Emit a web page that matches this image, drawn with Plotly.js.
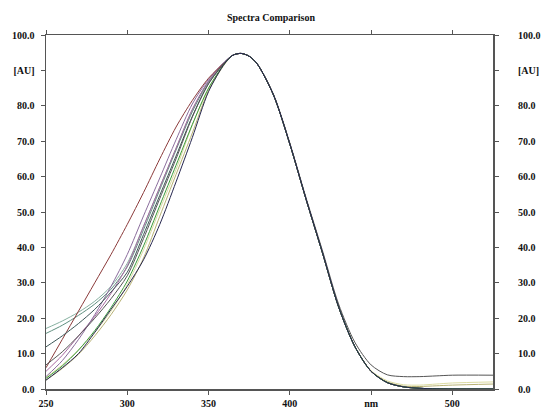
<!DOCTYPE html>
<html>
<head>
<meta charset="utf-8">
<script src="https://cdn.plot.ly/plotly-3.0.1.min.js"></script>
<style>html,body{margin:0;padding:0;background:#fff;}#chart{width:542px;height:408px;}</style>
</head>
<body>
<div id="chart"></div>
<script>
// Wavelength grid (nm)
const wavelength = [250,260,270,280,290,300,310,320,330,340,350,360,
  365,370,375,380,390,400,410,420,430,440,450,460,470,480,490,500,525];

// Absorbance series [AU]
const sBrown   = [6,14,22,30,38,46.5,55.5,65,74,81.5,87.8,92.3, 94.3,94.8,94.0,91.8,83,69.2,53.6,38.6,23.2,12,5,1.8,0.6,0.2,0.05,0,0];
const sPurple  = [3.5,8,14,21,29,38,48.9,59.6,70.4,80.5,87.5,92.5, 94.3,94.8,94.0,91.8,83,69.2,53.6,38.6,23.2,12,5,1.8,0.6,0.2,0.05,0,0];
const sMagenta = [5,9.5,15,20.5,27,34.8,45.9,57,68,79,87,92.4, 94.3,94.8,94.0,91.8,83,69.2,53.6,38.6,23.2,12,5,1.8,0.6,0.2,0.05,0,0];
const sGray    = [6.8,10.5,15,20,25.5,32,42.5,53.8,65,76.8,86.2,92.2, 94.3,94.8,94.0,91.8,83.2,69.5,54,39.2,24,13.2,6.8,4.0,3.5,3.5,3.7,3.9,3.9];
const sSage1   = [17.1,19.2,21.7,24.8,29,35.5,46,57,68,78.8,87,92.4, 94.3,94.8,94.0,91.8,83,69.2,53.6,38.6,23.2,12,5,1.8,0.6,0.2,0.05,0,0];
const sSage2   = [15.7,18,20.8,24,28.2,34.5,45,56.3,67.5,78.3,86.8,92.3, 94.3,94.8,94.0,91.8,83,69.2,53.6,38.6,23.2,12,5,1.8,0.6,0.2,0.05,0,0];
const sSlate   = [11.9,15,18.5,22.5,27.4,33,43.6,54.7,65.8,77,86.3,92.2, 94.3,94.8,94.0,91.8,83,69.2,53.6,38.6,23.2,12,5,1.8,0.6,0.2,0.05,0,0];
const sGreen   = [3,6.5,11,16.5,23,30.5,40.4,51.8,63.2,74.7,85,92, 94.3,94.8,94.0,91.8,83,69.2,53.6,38.6,23.2,12,5,1.8,0.6,0.2,0.05,0,0];
const sNavy    = [2.5,6,10,16,22.5,29,36.5,46.5,58.5,71,84,92, 94.3,94.8,94.0,91.8,83,69.2,53.6,38.6,23.2,12,5,1.8,0.6,0.2,0.05,0,0];
const sOlive   = [2.5,5.8,9.8,15,21,28,37,48.8,60.6,72.3,84.3,91.8, 94.3,94.8,94.0,91.8,83,69.2,53.6,38.6,23.2,12,5,2.0,0.8,0.7,0.9,1.1,1.4];
const sYellow  = [3.2,6.8,11,16,22,29.5,39.3,50.7,62,74.5,84.8,92, 94.3,94.8,94.0,91.8,83,69.2,53.6,38.6,23.2,12.1,5.2,2.3,1.2,1.1,1.4,1.7,2.0];

// Tick labels
const xTickVals = [250,300,350,400,450,500];
const xTickText = ['250','300','350','400','nm','500'];
const yTickVals = [0,10,20,30,40,50,60,70,80,90,100];
const yTickText = ['0.0','10.0','20.0','30.0','40.0','50.0','60.0','70.0','80.0','[AU]','100.0'];

const seriesList = [
  {y: sSage1,   color: '#86b0a0'},
  {y: sSage2,   color: '#5f8f7f'},
  {y: sYellow,  color: '#dcdca2'},
  {y: sOlive,   color: '#b8b274'},
  {y: sMagenta, color: '#a868a2'},
  {y: sPurple,  color: '#8a6c9c'},
  {y: sBrown,   color: '#8b3a3a'},
  {y: sSlate,   color: '#3c5656'},
  {y: sGreen,   color: '#3a9a3a'},
  {y: sGray,    color: '#555555'},
  {y: sNavy,    color: '#26264e'}
];

const traces = seriesList.map(s => ({
  x: wavelength, y: s.y, type: 'scatter', mode: 'lines',
  line: {color: s.color, width: 1, shape: 'spline', smoothing: 0.8},
  hoverinfo: 'skip', showlegend: false
}));
traces.push({x: [250, 525], y: [0, 100], yaxis: 'y2', mode: 'lines',
  line: {width: 0, color: 'rgba(0,0,0,0)'}, hoverinfo: 'skip', showlegend: false});

const tickFont = {family: 'Liberation Serif, Times New Roman, serif', size: 10, color: '#111', weight: 'bold'};
const axisLine = '#555555';

const layout = {
  width: 542, height: 408,
  margin: {l: 46, r: 49, t: 35, b: 19},
  paper_bgcolor: '#fff', plot_bgcolor: '#fff',
  title: {text: 'Spectra Comparison', x: 0.5, xanchor: 'center', y: 0.958, yanchor: 'middle',
    font: {family: 'Liberation Serif, Times New Roman, serif', size: 10, color: '#111', weight: 'bold'}},
  xaxis: {range: [250, 525], tickvals: xTickVals, ticktext: xTickText, ticks: 'outside', ticklen: 4,
    tickcolor: axisLine, showline: true, linecolor: axisLine, linewidth: 1.5, mirror: 'allticks',
    showgrid: false, zeroline: false, tickfont: tickFont, ticklabelstandoff: 0},
  yaxis: {range: [0, 100], tickvals: yTickVals, ticktext: yTickText, ticks: 'outside', ticklen: 4,
    tickcolor: axisLine, showline: true, linecolor: axisLine, linewidth: 1.5, mirror: true,
    showgrid: false, zeroline: false, tickfont: tickFont, ticklabelstandoff: 4},
  yaxis2: {range: [0, 100], overlaying: 'y', side: 'right', tickvals: yTickVals, ticktext: yTickText,
    ticks: 'outside', ticklen: 5, tickcolor: axisLine, showline: false, showgrid: false, zeroline: false,
    tickfont: tickFont, ticklabelstandoff: 17}
};

Plotly.newPlot('chart', traces, layout, {staticPlot: true, displayModeBar: false});
</script>
</body>
</html>
